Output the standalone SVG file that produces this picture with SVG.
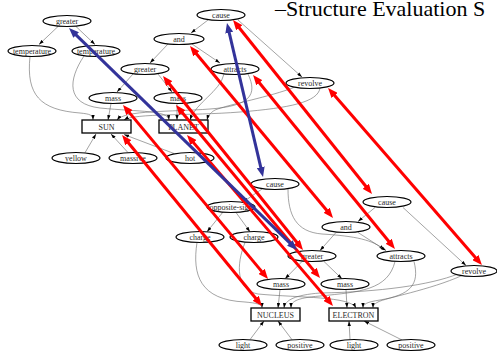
<svg xmlns="http://www.w3.org/2000/svg" width="497" height="354" viewBox="0 0 497 354">
<style>
  .n ellipse { fill: #fff; stroke: #000; stroke-width: 1.2; }
  .n rect { fill: #fff; stroke: #000; stroke-width: 1.3; }
  .n text { font-family: "Liberation Serif", "Times New Roman", serif; font-size: 8px; fill: #2a2a2a; text-anchor: middle; }
  .e path { fill: none; stroke: #666; stroke-width: 0.6; marker-end: url(#ah); }
  .m line { stroke-width: 3; }
  .red { stroke: #f00; marker-start: url(#rh); marker-end: url(#rh); }
  .blue { stroke: #33339a; marker-start: url(#bh); marker-end: url(#bh); }
  .title { font-family: "Liberation Serif", "Times New Roman", serif; font-size: 22px; fill: #000; }
</style>
<defs>
  <marker id="ah" viewBox="0 0 6 4" refX="6" refY="2" markerWidth="5" markerHeight="3.5" orient="auto" markerUnits="userSpaceOnUse">
    <path d="M0,0L6,2L0,4z" fill="#000"/>
  </marker>
  <marker id="rh" viewBox="0 0 10 8" refX="2" refY="4" markerWidth="10" markerHeight="8" orient="auto-start-reverse" markerUnits="userSpaceOnUse">
    <path d="M0,0L10,4L0,8z" fill="#f00"/>
  </marker>
  <marker id="bh" viewBox="0 0 10 8" refX="2" refY="4" markerWidth="10" markerHeight="8" orient="auto-start-reverse" markerUnits="userSpaceOnUse">
    <path d="M0,0L10,4L0,8z" fill="#33339a"/>
  </marker>
</defs>
<rect width="497" height="354" fill="#fff"/>
<text class="title" x="275" y="16">–Structure Evaluation S</text>

<!-- relation edges of both descriptions -->
<g id="edges" class="e">
  <path d="M58,26.5 L39,44.5"/>
  <path d="M76,26.5 L95,44.5"/>
  <path d="M208,20 L191,33"/>
  <path d="M238,20 L302,77"/>
  <path d="M168,44 L150,63"/>
  <path d="M192,44 L220,63"/>
  <path d="M133,74 L117,92"/>
  <path d="M158,74 L172,92"/>
  <path d="M111,103.5 L108,120"/>
  <path d="M177,103.5 L177,120"/>
  <path d="M30,56.5 C26,95 40,110 80,113 C90,114 93,115 93,120"/>
  <path d="M84,56 C68,80 66,104 100,108 C140,112 168,110 169,120"/>
  <path d="M224,74 C220,92 196,102 190,120"/>
  <path d="M248,74 C258,95 250,106 210,109 C170,112 125,110 117,120"/>
  <path d="M295,87 C270,97 230,104 215,110 C210,113 208,116 207,120"/>
  <path d="M320,88 C318,102 290,108 240,112 C190,116 135,113 124,120"/>
  <path d="M85,152.7 L96,134"/>
  <path d="M128,152.6 L111,134"/>
  <path d="M174,153.5 L124,134.5"/>

  <path d="M262,189 L243,202"/>
  <path d="M288,189 C288,215 296,232 322,234 C355,236 374,240 384,250"/>
  <path d="M375,207.5 L358,221.5"/>
  <path d="M403,207.5 L466,265.5"/>
  <path d="M336,232.5 L320,250.5"/>
  <path d="M358,232.5 L386,250.5"/>
  <path d="M302,261.5 L285,278.8"/>
  <path d="M324,261.5 L342,278.8"/>
  <path d="M223,212 L207,231.8"/>
  <path d="M236,212.5 L250,231.8"/>
  <path d="M197,242.5 C192,275 200,300 245,302 C256,303 262,304 262,308"/>
  <path d="M245,242.5 C236,265 236,290 258,294 C300,298 350,296 356,308"/>
  <path d="M280,289.5 L278,308"/>
  <path d="M346,289.5 L347,308"/>
  <path d="M395,261.5 C388,290 360,292 320,296 C295,298 291,302 291,308"/>
  <path d="M414,261.5 C420,285 410,295 380,300 C367,302 363,304 363,308"/>
  <path d="M458,274 C430,285 380,292 320,293 C295,295 285,300 284,308"/>
  <path d="M462,275.5 C430,290 385,298 378,302 C374,304 373,306 373,308"/>
  <path d="M250,339.6 L264,321"/>
  <path d="M292,339.7 L278,321"/>
  <path d="M350,339.5 L349,321"/>
  <path d="M402,340 L364,321"/>
</g>

<!-- base description: sun / planet -->
<g id="b-greater-t" class="n"><ellipse cx="67" cy="21" rx="24" ry="5.5"/><text x="67" y="24">greater</text></g>
<g id="b-temp-sun" class="n"><ellipse cx="32" cy="51" rx="24" ry="5.5"/><text x="32" y="54">temperature</text></g>
<g id="b-temp-planet" class="n"><ellipse cx="96" cy="51" rx="24" ry="5.5"/><text x="96" y="54">temperature</text></g>
<g id="b-cause" class="n"><ellipse cx="221" cy="15" rx="24" ry="5.5"/><text x="221" y="18">cause</text></g>
<g id="b-and" class="n"><ellipse cx="179" cy="39" rx="25" ry="5.5"/><text x="179" y="42">and</text></g>
<g id="b-greater-m" class="n"><ellipse cx="145" cy="69" rx="24" ry="5.5"/><text x="145" y="72">greater</text></g>
<g id="b-attracts" class="n"><ellipse cx="235" cy="69" rx="24" ry="5.5"/><text x="235" y="72">attracts</text></g>
<g id="b-revolve" class="n"><ellipse cx="310" cy="83" rx="24" ry="5.5"/><text x="310" y="86">revolve</text></g>
<g id="b-mass-sun" class="n"><ellipse cx="113" cy="98" rx="24" ry="5.5"/><text x="113" y="101">mass</text></g>
<g id="b-mass-planet" class="n"><ellipse cx="178" cy="98" rx="24" ry="5.5"/><text x="178" y="101">mass</text></g>
<g id="b-sun" class="n"><rect x="82" y="120" width="49" height="13"/><text x="106.5" y="129.5">SUN</text></g>
<g id="b-planet" class="n"><rect x="159" y="120" width="49" height="13"/><text x="183.5" y="129.5">PLANET</text></g>
<g id="b-yellow" class="n"><ellipse cx="76" cy="158" rx="24" ry="5.5"/><text x="76" y="161">yellow</text></g>
<g id="b-massive" class="n"><ellipse cx="133" cy="158" rx="24" ry="5.5"/><text x="133" y="161">massive</text></g>
<g id="b-hot" class="n"><ellipse cx="190" cy="158" rx="24" ry="5.5"/><text x="190" y="161">hot</text></g>

<!-- target description: nucleus / electron -->
<g id="t-cause" class="n"><ellipse cx="275" cy="184" rx="24" ry="5.5"/><text x="275" y="187">cause</text></g>
<g id="t-opposite" class="n"><ellipse cx="231" cy="207" rx="24" ry="5.5"/><text x="231" y="210">opposite-sign</text></g>
<g id="t-charge-n" class="n"><ellipse cx="200" cy="237" rx="24" ry="5.5"/><text x="200" y="240">charge</text></g>
<g id="t-charge-e" class="n"><ellipse cx="254" cy="237" rx="24" ry="5.5"/><text x="254" y="240">charge</text></g>
<g id="t-cause-2" class="n"><ellipse cx="387" cy="202" rx="24" ry="5.5"/><text x="387" y="205">cause</text></g>
<g id="t-and" class="n"><ellipse cx="346" cy="227" rx="24" ry="5.5"/><text x="346" y="230">and</text></g>
<g id="t-greater" class="n"><ellipse cx="312" cy="256" rx="24" ry="5.5"/><text x="312" y="259">greater</text></g>
<g id="t-attracts" class="n"><ellipse cx="401" cy="256" rx="24" ry="5.5"/><text x="401" y="259">attracts</text></g>
<g id="t-revolve" class="n"><ellipse cx="474" cy="271" rx="23" ry="5.5"/><text x="474" y="274">revolve</text></g>
<g id="t-mass-n" class="n"><ellipse cx="281" cy="284" rx="24" ry="5.5"/><text x="281" y="287">mass</text></g>
<g id="t-mass-e" class="n"><ellipse cx="345" cy="284" rx="24" ry="5.5"/><text x="345" y="287">mass</text></g>
<g id="t-nucleus" class="n"><rect x="251" y="308" width="49" height="13"/><text x="275.5" y="317.5">NUCLEUS</text></g>
<g id="t-electron" class="n"><rect x="329" y="308" width="49" height="13"/><text x="353.5" y="317.5">ELECTRON</text></g>
<g id="t-light-n" class="n"><ellipse cx="243" cy="345" rx="24" ry="5.5"/><text x="243" y="348">light</text></g>
<g id="t-positive-n" class="n"><ellipse cx="300" cy="345" rx="24" ry="5.5"/><text x="300" y="348">positive</text></g>
<g id="t-light-e" class="n"><ellipse cx="354" cy="345" rx="24" ry="5.5"/><text x="354" y="348">light</text></g>
<g id="t-positive-e" class="n"><ellipse cx="411" cy="345" rx="24" ry="5.5"/><text x="411" y="348">positive</text></g>

<!-- correspondences between the two descriptions -->
<g id="mappings" class="m">
  <line class="red" x1="238" y1="26.2" x2="367" y2="187.8"/>
  <line class="red" x1="195.1" y1="52.2" x2="327.9" y2="211.8"/>
  <line class="red" x1="168" y1="82.2" x2="298" y2="243.8"/>
  <line class="red" x1="258.1" y1="81.2" x2="389.9" y2="242.8"/>
  <line class="red" x1="333.3" y1="94" x2="476.7" y2="259"/>
  <line class="red" x1="128.1" y1="111.1" x2="262.9" y2="272.9"/>
  <line class="red" x1="181.1" y1="111.2" x2="314.9" y2="271.9"/>
  <line class="red" x1="127.1" y1="141.2" x2="256.9" y2="299.8"/>
  <line class="red" x1="192.2" y1="141.1" x2="327.8" y2="299.9"/>
  <line class="blue" x1="74.7" y1="33.6" x2="291.3" y2="244.4"/>
  <line class="blue" x1="228.8" y1="30.8" x2="261.2" y2="169.2"/>
</g>
</svg>
